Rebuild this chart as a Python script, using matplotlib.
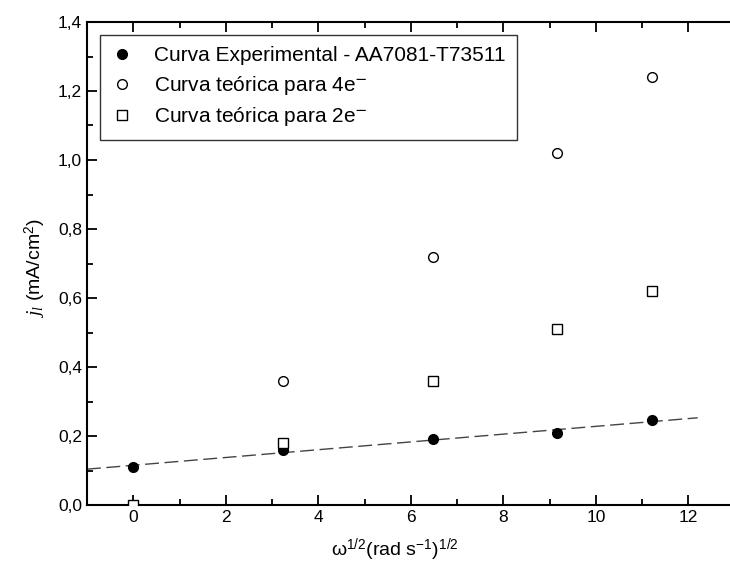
import numpy as np
import matplotlib
matplotlib.use("Agg")
import matplotlib.pyplot as plt
from matplotlib.ticker import MultipleLocator, FuncFormatter

plt.rcParams['font.family'] = ['Liberation Sans', 'DejaVu Sans']
plt.rcParams['mathtext.fontset'] = 'custom'
plt.rcParams['mathtext.rm'] = 'Liberation Sans'
plt.rcParams['mathtext.it'] = 'Liberation Serif:italic'

# omega^1/2 values (rad s^-1)^1/2
w_half = [0, 3.24, 6.47, 9.15, 11.21]
j_exp = [0.11, 0.16, 0.19, 0.21, 0.245]
j_4e = [0.0, 0.36, 0.72, 1.02, 1.24]
j_2e = [0.0, 0.18, 0.36, 0.51, 0.62]

fig = plt.figure(figsize=(7.30, 5.69), dpi=100)
ax = fig.add_axes([87/730, 1-505/569, 657/730, 483/569])

# linear fit of the experimental curve
p = np.polyfit(w_half, j_exp, 1)
xf = np.array([-1, 12.2])
ax.plot(xf, np.polyval(p, xf), ls=(0, (10, 4)), color='#444444', lw=1.0, zorder=1)

ax.plot(w_half, j_4e, 'o', ms=7, mfc='white', mec='black', mew=1.0, ls='none',
        label='Curva teórica para 4e$^{\\mathsf{-}}$', zorder=2)
ax.plot(w_half, j_exp, 'o', ms=7, color='black', ls='none',
        label='Curva Experimental - AA7081-T73511', zorder=3)
ax.plot(w_half, j_2e, 's', ms=7, mfc='white', mec='black', mew=1.0, ls='none',
        label='Curva teórica para 2e$^{\\mathsf{-}}$', zorder=4)

ax.set_xlim(-1, 13.2)
ax.set_ylim(0, 1.4)
ax.xaxis.set_major_locator(MultipleLocator(2))
ax.xaxis.set_minor_locator(MultipleLocator(1))
ax.yaxis.set_major_locator(MultipleLocator(0.2))
ax.yaxis.set_minor_locator(MultipleLocator(0.1))
ax.yaxis.set_major_formatter(FuncFormatter(lambda v, pos: ('%.1f' % v).replace('.', ',')))
ax.tick_params(which='both', direction='in', top=True, right=True, width=1.3, labelsize=12.5, colors='black')
ax.tick_params(which='major', length=7)
ax.tick_params(which='minor', length=4)
for s in ax.spines.values():
    s.set_linewidth(1.5)

ax.set_xlabel('ω$^{1/2}$(rad s$^{-1}$)$^{1/2}$', fontsize=14)
ax.xaxis.set_label_coords(0.469, -0.066)
ax.set_ylabel('$j_l$ (mA/cm$^2$)', fontsize=14)
ax.yaxis.set_label_coords(-0.06, 0.49)

h, l = ax.get_legend_handles_labels()
order = [1, 0, 2]
leg = ax.legend([h[i] for i in order], [l[i] for i in order], loc='upper left',
                bbox_to_anchor=(0.0198, 0.973), borderaxespad=0, fontsize=15,
                frameon=True, fancybox=False, edgecolor='black', handlelength=1.0,
                handletextpad=1.05, borderpad=0.55, labelspacing=0.4)
leg.get_frame().set_linewidth(1.0)

fig.savefig('out.png', dpi=100)
